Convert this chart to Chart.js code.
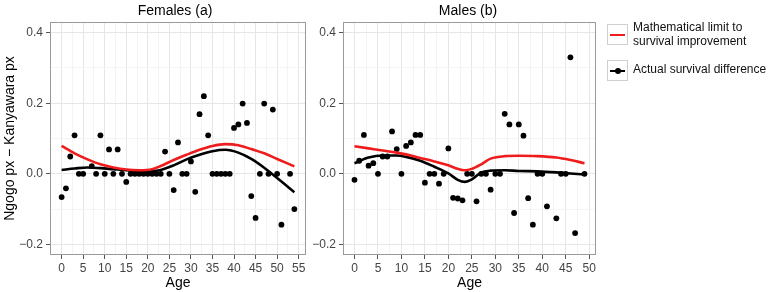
<!DOCTYPE html>
<html><head><meta charset="utf-8">
<script src="https://cdn.jsdelivr.net/npm/chart.js@4"></script>
<style>
body{margin:0;width:771px;height:292px;background:#fff;position:relative;overflow:hidden;font-family:"Liberation Sans",Arial,Helvetica,sans-serif;}
canvas{position:absolute;top:0;}
.ptitle{position:absolute;top:2px;font-size:14px;line-height:16px;color:#000;white-space:nowrap;transform:translateX(-50%);}
.key{position:absolute;left:607px;width:19px;height:19px;border:1px solid #cfcfcf;background:#fff;box-sizing:content-box;}
.key .ln{position:absolute;left:2px;right:2px;top:8.5px;height:2.5px;}
.key .dot{position:absolute;left:7px;top:7px;width:6px;height:6px;border-radius:50%;background:#000;}
.ltxt{position:absolute;left:633px;font-size:12px;line-height:13.5px;color:#111;white-space:nowrap;}
</style></head>
<body>
<canvas id="cf" width="310" height="292" style="left:0;width:310px;height:292px"></canvas>
<canvas id="cm" width="300" height="292" style="left:300px;width:300px;height:292px"></canvas>
<div class="ptitle" style="left:175px">Females (a)</div>
<div class="ptitle" style="left:468px">Males (b)</div>
<div class="key" style="top:24px"><div class="ln" style="background:#ee1c1c"></div></div>
<div class="ltxt" style="top:21px">Mathematical limit to<br>survival improvement</div>
<div class="key" style="top:60px"><div class="ln" style="background:#000"></div><div class="dot"></div></div>
<div class="ltxt" style="top:63px">Actual survival difference</div>
<script>
// ---- Females (a) ----
const femaleAges = [0,1,2,3,4,5,7,8,9,10,11,12,13,14,15,16,17,18,19,20,21,22,23,24,25,26,27,28,29,30,31,32,33,34,35,36,37,38,39,40,41,42,43,44,45,46,47,48,49,50,51,53,54];
const femaleDiff = [-0.066,-0.041,0.049,0.109,0,0,0.022,0,0.109,0,0.069,0,0.069,0,-0.023,0,0,0,0,0,0,0,0,0.063,0,-0.046,0.089,0,0,0.035,-0.051,0.169,0.22,0.109,0,0,0,0,0,0.13,0.14,0.199,0.144,-0.063,-0.125,0,0.199,0,0.182,0,-0.144,0,-0.1];
const femaleCurveAges = [0,3,6,9,12,15,18,21,23,26,29,32,35,38,41,44,47,50,54];
const femaleLimit = [0.079,0.058,0.041,0.027,0.018,0.012,0.010,0.013,0.022,0.039,0.054,0.068,0.079,0.084,0.081,0.070,0.058,0.042,0.021];
const femaleActual = [0.011,0.015,0.018,0.016,0.013,0.010,0.008,0.008,0.011,0.024,0.041,0.054,0.064,0.068,0.060,0.042,0.017,-0.012,-0.052];
// ---- Males (b) ----
const maleAges = [0,1,2,3,4,5,6,7,8,9,10,11,12,13,14,15,16,17,18,19,20,21,22,23,24,25,26,27,28,29,30,31,32,33,34,35,36,37,38,39,40,41,43,44,45,46,47,49];
const maleDiff = [-0.017,0.037,0.11,0.023,0.03,0,0.049,0.049,0.12,0.07,0,0.079,0.089,0.11,0.11,-0.025,0,0,-0.028,0,0.072,-0.068,-0.07,-0.075,0,0,-0.078,0,0,-0.045,0,0,0.17,0.14,-0.111,0.14,0.108,-0.069,-0.144,0,0,-0.092,-0.126,0,0,0.33,-0.168,0];
const maleCurveAges = [0,3,6,9,11,14,17,20,22,23.5,25,27,29,32,35,39,43,46,49];
const maleLimit = [0.078,0.072,0.066,0.060,0.055,0.045,0.035,0.024,0.014,0.010,0.014,0.027,0.043,0.050,0.051,0.050,0.046,0.039,0.030];
const maleActual = [0.030,0.046,0.052,0.052,0.048,0.037,0.020,0.001,-0.017,-0.023,-0.016,0.004,0.009,0.010,0.008,0.007,0.004,0.001,-0.002];
// ---- axes ----
const yGridValues = [-0.2,-0.1,0,0.1,0.2,0.3,0.4];
const yLabelValues = [-0.2,0,0.2,0.4];
const femaleXGrid = [-2.5,0,2.5,5,7.5,10,12.5,15,17.5,20,22.5,25,27.5,30,32.5,35,37.5,40,42.5,45,47.5,50,52.5,55];
const maleXGrid = [0,2.5,5,7.5,10,12.5,15,17.5,20,22.5,25,27.5,30,32.5,35,37.5,40,42.5,45,47.5,50];
const xLabelStep = 5;

const RED = '#ee1c1c';
const FONT = '"Liberation Sans", Arial, Helvetica, sans-serif';

const pts = (xs, ys) => xs.map((x, i) => ({x, y: ys[i]}));
const isLabX = v => Math.abs(v / xLabelStep - Math.round(v / xLabelStep)) < 1e-6;
const isLabY = v => yLabelValues.some(l => Math.abs(l - v) < 1e-6);

const panelBorder = {
  id: 'panelBorder',
  afterDraw(chart) {
    const {ctx, chartArea: a} = chart;
    ctx.save();
    ctx.strokeStyle = '#9a9a9a';
    ctx.lineWidth = 1;
    ctx.strokeRect(Math.round(a.left) + 0.5, Math.round(a.top) + 0.5, Math.round(a.right - a.left) - 1, Math.round(a.bottom - a.top) - 1);
    ctx.restore();
  }
};

function makeChart(id, ages, diff, cAges, limit, actual, xmin, xmax, xGrid, yWidth, padRight, showYTitle) {
  return new Chart(document.getElementById(id), {
    type: 'scatter',
    data: {
      datasets: [
        {data: pts(cAges, limit), showLine: true, borderColor: RED, borderWidth: 2.6, pointRadius: 0, cubicInterpolationMode: 'monotone', order: 0},
        {data: pts(cAges, actual), showLine: true, borderColor: '#000', borderWidth: 2.6, pointRadius: 0, cubicInterpolationMode: 'monotone', order: 1},
        {data: pts(ages, diff), showLine: false, backgroundColor: '#000', borderColor: '#000', borderWidth: 0, pointRadius: 2.9, order: 2}
      ]
    },
    options: {
      responsive: false, animation: false, devicePixelRatio: 1,
      layout: {padding: {top: 22, right: padRight, left: 0, bottom: 0}},
      plugins: {legend: {display: false}, tooltip: {enabled: false}},
      scales: {
        x: {
          type: 'linear', min: xmin, max: xmax,
          afterBuildTicks: s => { s.ticks = xGrid.map(v => ({value: v})); },
          afterFit: s => { s.height = 37; },
          ticks: {autoSkip: false, maxRotation: 0, padding: 2, color: '#444', font: {family: FONT, size: 12},
            callback: v => isLabX(v) ? String(Math.round(v)) : ''},
          grid: {drawTicks: true, tickLength: 4, tickWidth: 1,
            color: c => (c.tick && isLabX(c.tick.value)) ? '#e6e6e6' : '#f4f4f4',
            tickColor: c => (c.tick && isLabX(c.tick.value)) ? '#555' : 'rgba(0,0,0,0)'},
          border: {display: false},
          title: {display: true, text: 'Age', color: '#000', font: {family: FONT, size: 14}, padding: {top: 0, bottom: 0}}
        },
        y: {
          type: 'linear', min: -0.23, max: 0.43,
          afterBuildTicks: s => { s.ticks = yGridValues.map(v => ({value: v})); },
          afterFit: s => { s.width = yWidth; },
          ticks: {autoSkip: false, padding: 3, color: '#444', font: {family: FONT, size: 12},
            callback: v => isLabY(v) ? (v < 0 ? '\u2212' + Math.abs(v).toFixed(1) : v.toFixed(1)) : ''},
          grid: {drawTicks: true, tickLength: 4, tickWidth: 1,
            color: c => (c.tick && isLabY(c.tick.value)) ? '#e6e6e6' : '#f4f4f4',
            tickColor: c => (c.tick && isLabY(c.tick.value)) ? '#555' : 'rgba(0,0,0,0)'},
          border: {display: false},
          title: {display: showYTitle, text: 'Ngogo px \u2212 Kanyawara px', color: '#000', font: {family: FONT, size: 14}, padding: {top: 2, bottom: 0}}
        }
      }
    },
    plugins: [panelBorder]
  });
}

makeChart('cf', femaleAges, femaleDiff, femaleCurveAges, femaleLimit, femaleActual, -2.7, 56.7, femaleXGrid, 50, 3, true);
makeChart('cm', maleAges, maleDiff, maleCurveAges, maleLimit, maleActual, -2.45, 51.45, maleXGrid, 43, 2, false);
</script>
</body></html>
